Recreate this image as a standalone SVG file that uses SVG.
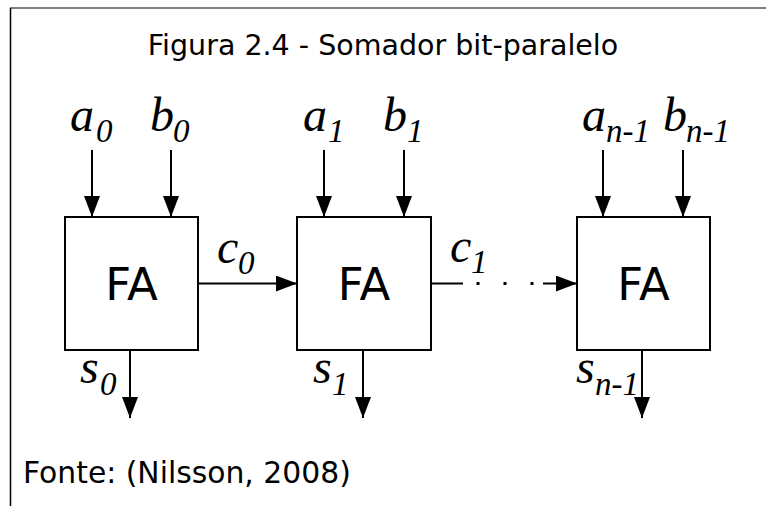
<svg xmlns="http://www.w3.org/2000/svg" width="766" height="506" viewBox="0 0 766 506">
<style>
.box{fill:#fff;stroke:#000;stroke-width:2}
.ln{stroke:#000;stroke-width:2;fill:none}
.fa{font-family:"DejaVu Sans",Verdana,sans-serif;font-size:45px;fill:#000;text-anchor:middle}
.cap{font-family:"DejaVu Sans",Verdana,sans-serif;fill:#000}
.m{font-family:"Liberation Serif","Times New Roman",serif;font-style:italic;font-size:48px;fill:#000}
.s{font-size:33px}
</style>
<defs>
<marker id="ah" markerUnits="userSpaceOnUse" markerWidth="21" markerHeight="16" refX="21" refY="8" orient="auto">
<path d="M0,0 L21,8 L0,16 Z" fill="#000"/>
</marker>
</defs>
<rect width="766" height="506" fill="#fff"/>
<line x1="10" y1="8" x2="766" y2="8" stroke="#808080" stroke-width="2"/>
<line x1="10.5" y1="8" x2="10.5" y2="506" stroke="#000" stroke-width="1.5"/>
<text class="cap" x="383" y="55" font-size="28.5" text-anchor="middle">Figura 2.4 - Somador bit-paralelo</text>
<text class="cap" x="23" y="483" font-size="29.8">Fonte: (Nilsson, 2008)</text>

<g id="connectors">
<line class="ln" x1="92" y1="150" x2="92" y2="217" marker-end="url(#ah)"/>
<line class="ln" x1="171" y1="150" x2="171" y2="217" marker-end="url(#ah)"/>
<line class="ln" x1="324" y1="150" x2="324" y2="217" marker-end="url(#ah)"/>
<line class="ln" x1="404" y1="150" x2="404" y2="217" marker-end="url(#ah)"/>
<line class="ln" x1="603" y1="150" x2="603" y2="217" marker-end="url(#ah)"/>
<line class="ln" x1="683" y1="150" x2="683" y2="217" marker-end="url(#ah)"/>
<line class="ln" x1="198" y1="283.5" x2="297" y2="283.5" marker-end="url(#ah)"/>
<line class="ln" x1="431" y1="283.5" x2="463" y2="283.5"/>
<rect x="476.5" y="282" width="3" height="3" fill="#000"/>
<rect x="503.5" y="282" width="3" height="3" fill="#000"/>
<rect x="530.5" y="282" width="3" height="3" fill="#000"/>
<line class="ln" x1="543" y1="283.5" x2="577" y2="283.5" marker-end="url(#ah)"/>
<line class="ln" x1="130" y1="350" x2="130" y2="418" marker-end="url(#ah)"/>
<line class="ln" x1="363" y1="350" x2="363" y2="418" marker-end="url(#ah)"/>
<line class="ln" x1="642" y1="350" x2="642" y2="418" marker-end="url(#ah)"/>
</g>

<g id="fa0">
<rect class="box" x="65" y="217" width="133" height="133"/>
<text class="fa" x="131.5" y="300">FA</text>
</g>
<g id="fa1">
<rect class="box" x="297" y="217" width="134" height="133"/>
<text class="fa" x="364" y="300">FA</text>
</g>
<g id="fa2">
<rect class="box" x="577" y="217" width="133" height="133"/>
<text class="fa" x="643.5" y="300">FA</text>
</g>

<g id="labels">
<text class="m" x="70" y="131">a<tspan class="s" x="96" y="142">0</tspan></text>
<text class="m" x="150" y="131">b<tspan class="s" x="173" y="142">0</tspan></text>
<text class="m" x="303" y="131">a<tspan class="s" x="328" y="142">1</tspan></text>
<text class="m" x="383" y="131">b<tspan class="s" x="407" y="142">1</tspan></text>
<text class="m" x="582" y="131">a<tspan class="s" x="606" y="142">n-1</tspan></text>
<text class="m" x="663" y="131">b<tspan class="s" x="686" y="142">n-1</tspan></text>
<text class="m" x="217" y="263">c<tspan class="s" x="238" y="274">0</tspan></text>
<text class="m" x="450" y="262">c<tspan class="s" x="471" y="273">1</tspan></text>
<text class="m" x="80" y="383">s<tspan class="s" x="100" y="395">0</tspan></text>
<text class="m" x="313" y="383">s<tspan class="s" x="332" y="395">1</tspan></text>
<text class="m" x="576" y="383">s<tspan class="s" x="595" y="395">n-1</tspan></text>
</g>
</svg>
